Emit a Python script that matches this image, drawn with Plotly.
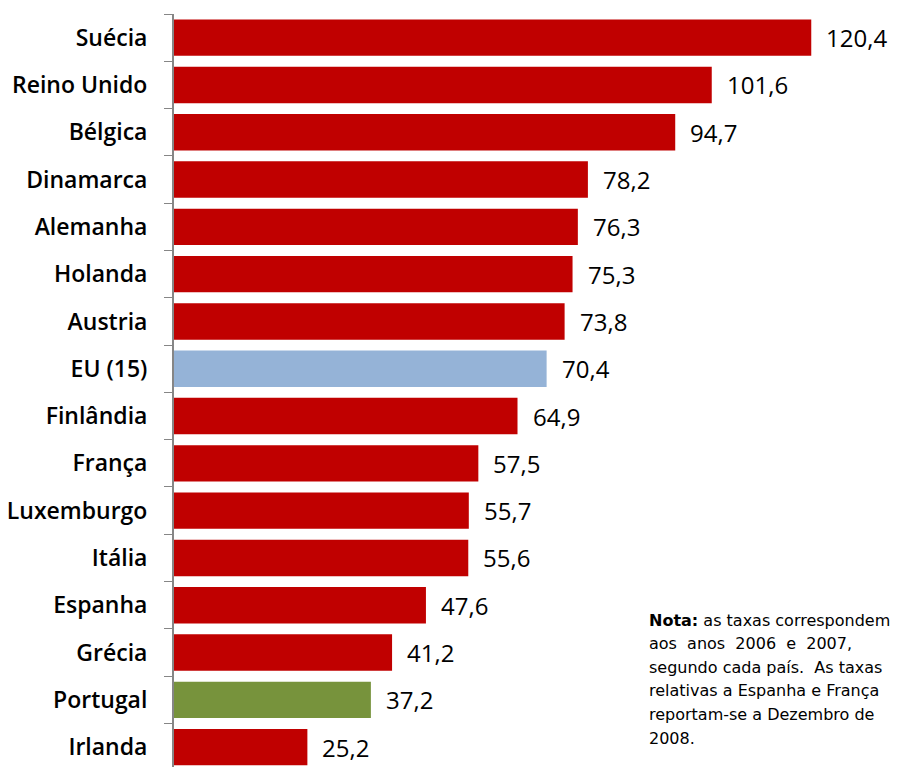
import plotly.graph_objects as go

paises = ["Suécia", "Reino Unido", "Bélgica", "Dinamarca", "Alemanha", "Holanda",
          "Austria", "EU (15)", "Finlândia", "França", "Luxemburgo", "Itália",
          "Espanha", "Grécia", "Portugal", "Irlanda"]
taxas = [120.4, 101.6, 94.7, 78.2, 76.3, 75.3, 73.8, 70.4, 64.9, 57.5, 55.7, 55.6,
         47.6, 41.2, 37.2, 25.2]

VERMELHO = "#C00000"
destaques = {"EU (15)": "#95B3D7", "Portugal": "#77933C"}
cores = [destaques.get(p, VERMELHO) for p in paises]

nota = [
    "<b>Nota:</b> as taxas correspondem",
    "aos  anos  2006  e  2007,",
    "segundo cada país.  As taxas",
    "relativas a Espanha e França",
    "reportam-se a Dezembro de",
    "2008.",
]

FONTE = "Open Sans"
# page body has an 8px margin, so the figure is drawn 8px in from the top-left
OFF = 8
W, H = 915 - OFF, 767 - OFF
L, T = 174 - OFF, 14 - OFF

fig = go.Figure()
fig.add_trace(
    go.Bar(
        x=taxas,
        y=paises,
        orientation="h",
        marker={"color": cores, "line": {"width": 0}},
        width=0.77,
        hoverinfo="skip",
    )
)

# value labels to the right of each bar
for p, v in zip(paises, taxas):
    fig.add_annotation(
        x=v,
        y=p,
        text=f"{v:.1f}".replace(".", ","),
        showarrow=False,
        xanchor="left",
        xshift=13,
        font={"family": FONTE, "size": 24, "color": "#000000"},
    )

# note, one annotation per line (page pixel positions -> paper coords)
for i, linha in enumerate(nota):
    fig.add_annotation(
        x=(647 - OFF - L) / (W - L),
        y=1 - (620 + i * 23.6 - OFF - T) / (H - T),
        xref="paper",
        yref="paper",
        text=linha,
        showarrow=False,
        xanchor="left",
        yanchor="middle",
        align="left",
        font={"family": "DejaVu Sans", "size": 16, "color": "#000000"},
    )

fig.update_layout(
    width=W,
    height=H,
    margin={"l": L, "r": 0, "t": T, "b": 0, "autoexpand": False},
    paper_bgcolor="#FFFFFF",
    plot_bgcolor="#FFFFFF",
    showlegend=False,
)

fig.update_xaxes(range=[0, 140], visible=False, fixedrange=True, automargin=False)
fig.update_yaxes(
    type="category",
    range=[15.42, -0.5],
    automargin=False,
    showline=True,
    linecolor="#868686",
    linewidth=2,
    ticks="outside",
    tickson="boundaries",
    ticklen=8,
    tickwidth=1,
    tickcolor="#868686",
    ticklabelstandoff=20,
    tickfont={"family": FONTE, "size": 23, "color": "#000000", "weight": 600},
    showgrid=False,
    zeroline=False,
)

fig.write_html("out.html")
